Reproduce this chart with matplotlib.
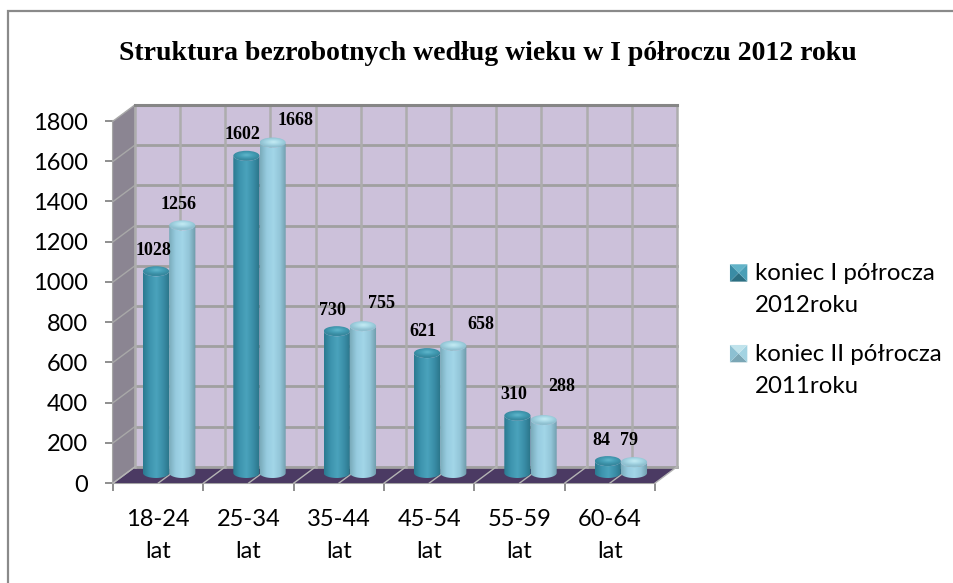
import numpy as np
import matplotlib
matplotlib.use('Agg')
import matplotlib.pyplot as plt
from matplotlib.colors import LinearSegmentedColormap
from matplotlib.legend_handler import HandlerBase
from matplotlib.patches import Ellipse, PathPatch, Polygon, Rectangle
from matplotlib.path import Path

# data
categories = ['18-24\nlat', '25-34\nlat', '35-44\nlat', '45-54\nlat', '55-59\nlat', '60-64\nlat']
values_2012 = [1028, 1602, 730, 621, 310, 84]
values_2011 = [1256, 1668, 755, 658, 288, 79]
y_ticks = [0, 200, 400, 600, 800, 1000, 1200, 1400, 1600, 1800]
series_names = ['koniec I półrocza\n2012roku', 'koniec II półrocza\n2011roku']
title = 'Struktura bezrobotnych według wieku w I półroczu 2012 roku'

# label shifts from the bar top, in pixels
shift_2012 = [(-3, 21), (-4, 21), (-4, 21), (-4, 22), (-4, 21), (-6, 21)]
shift_2011 = [(-4, 21), (23, 22), (19, 23), (28, 21), (18, 34), (-5, 22)]

W, H = 954, 583
LATO = 'Lato'
SERIF = 'Liberation Serif'


def box(x0, x1, y_top, y_bottom):
    # pixel box -> figure fractions
    return [x0 / W, 1 - y_bottom / H, (x1 - x0) / W, (y_bottom - y_top) / H]


fig = plt.figure(figsize=(W / 100, H / 100), dpi=100)

# grey frame, open on the right and bottom
frame = fig.add_axes([0, 0, 1, 1], zorder=0)
frame.set_xlim(0, W)
frame.set_ylim(H, 0)
frame.axis('off')
frame.plot([8, 8, W], [H, 11, 11], color='#8a8a8a', lw=1.6, solid_joinstyle='miter')

# front plane: carries the axis, ticks and labels
front = fig.add_axes(box(113, 655, 121, 483), zorder=1)
front.patch.set_visible(False)
front.set_xlim(0, 6)
front.set_ylim(0, 1800)
for s in ['top', 'right']:
    front.spines[s].set_visible(False)
for s in ['left', 'bottom']:
    front.spines[s].set_color('#a6a6a6')
    front.spines[s].set_linewidth(1.5)
front.set_xticks(range(7))
front.set_xticklabels([])
front.set_xticks(np.arange(6) + 0.5, categories, minor=True)
front.set_yticks(y_ticks)
front.tick_params(axis='x', which='major', length=6, width=1.3, color='#868686')
front.tick_params(axis='x', which='minor', length=0, pad=19, labelsize=17, labelfontfamily=LATO)
front.tick_params(axis='y', length=6, width=1.3, color='#868686', pad=12, labelsize=17, labelfontfamily=LATO)
for t in front.get_xticklabels(minor=True):
    t.set_linespacing(1.6)

# middle plane: walls, floor and bars
ax = fig.add_axes(box(124, 666, 116, 478), zorder=2)
ax.patch.set_visible(False)
ax.axis('off')

# depth of the box in data units
bx, by = 0.12, 55
fx, fy = -0.12, -25

ax.add_patch(Polygon([(bx, by), (6 + bx, by), (6 + bx, 1800 + by), (bx, 1800 + by)],
                     fc='#ccc1da', ec='none', zorder=1, clip_on=False))
ax.add_patch(Polygon([(fx, fy), (bx, by), (bx, 1800 + by), (fx, 1800 + fy)],
                     fc='#8b8592', ec='none', zorder=1, clip_on=False))
ax.add_patch(Polygon([(fx, fy), (6 + fx, fy), (6 + bx, by), (bx, by)],
                     fc='#4b3a63', ec='none', zorder=1, clip_on=False))

for v in y_ticks:
    ax.plot([bx, 6 + bx], [v + by, v + by], color='#a0a0a0', lw=2, zorder=2, clip_on=False)
    ax.plot([fx, bx], [v + fy, v + by], color='#a8a8a8', lw=1, zorder=2, clip_on=False)
for c in np.arange(0, 6.5, 0.5):
    ax.plot([c + bx, c + bx], [by, 1800 + by], color='#adadad', lw=1.8, zorder=2, clip_on=False)
    ax.plot([c + fx, c + bx], [fy, by], color='#b5b5b5', lw=1, zorder=2, clip_on=False)
ax.plot([bx, 6 + bx], [1800 + by, 1800 + by], color='#868686', lw=2.2, zorder=2, clip_on=False)

cmap_dark = LinearSegmentedColormap.from_list('d', ['#2b7a90', '#3d94ae', '#4aa3bc', '#3a8ea8', '#2a7488'])
cmap_light = LinearSegmentedColormap.from_list('l', ['#7aabbb', '#97cce0', '#a2d6e8', '#93c5d8', '#6c99a8'])
top_dark = LinearSegmentedColormap.from_list('td', ['#5fb6cb', '#459eb6', '#37899f'])
top_light = LinearSegmentedColormap.from_list('tl', ['#c4ebf3', '#a8d8e6', '#8fc0d0'])

half_w = 0.145
half_h = 25  # ellipse half height, data units
base = 25
sweep = np.linspace(0, 1, 60).reshape(1, -1)
gx, gy = np.meshgrid(np.linspace(-1, 1, 50), np.linspace(-1, 1, 30))
disc = np.clip(np.sqrt(gx ** 2 + (gy + 0.1) ** 2 * 1.3), 0, 1)


def cylinder(x, value, cmap, cmap_top):
    t = np.linspace(np.pi, 2 * np.pi, 30)
    low = np.column_stack([x + half_w * np.cos(t), base + half_h * np.sin(t)])
    high = np.column_stack([x + half_w * np.cos(t[::-1]), value + half_h * np.sin(t[::-1])])
    body = PathPatch(Path(np.vstack([low, high, low[:1]])), fc='none', ec='none', transform=ax.transData)
    ax.add_patch(body)
    im = ax.imshow(sweep, cmap=cmap, extent=(x - half_w, x + half_w, base - half_h, value + half_h),
                   aspect='auto', zorder=3, interpolation='bilinear')
    im.set_clip_path(body)
    lid = Ellipse((x, value), 2 * half_w, 2 * half_h, fc='none', ec='none', transform=ax.transData)
    ax.add_patch(lid)
    im2 = ax.imshow(disc, cmap=cmap_top, extent=(x - half_w, x + half_w, value - half_h, value + half_h),
                    aspect='auto', zorder=3.1, interpolation='bilinear')
    im2.set_clip_path(lid)


centers = np.arange(6) + 0.5
for c, v12, v11, s12, s11 in zip(centers, values_2012, values_2011, shift_2012, shift_2011):
    cylinder(c - 0.145, v12, cmap_dark, top_dark)
    cylinder(c + 0.145, v11, cmap_light, top_light)
    for xx, v, s in [(c - 0.145, v12, s12), (c + 0.145, v11, s11)]:
        ax.annotate(str(v), (xx, v), xytext=s, textcoords='offset pixels', ha='center', va='center',
                    family=SERIF, weight='bold', fontsize=13, color='black', zorder=5)

ax.set_xlim(0, 6)
ax.set_ylim(0, 1800)

fig.text(488 / W, 1 - 53 / H, title, ha='center', va='center', family=SERIF, weight='bold',
         fontsize=20, color='black')


# legend swatch: small square pyramid, four shaded faces
class PyramidHandler(HandlerBase):
    def __init__(self, faces):
        super().__init__()
        self.faces = faces

    def create_artists(self, legend, orig_handle, xdescent, ydescent, width, height, fontsize, trans):
        s = 12.5
        x0 = width - s + 1.5
        y0 = height / 2 - s / 2 + 12
        cx, cy = x0 + s / 2, y0 + s / 2
        corners = [(x0, y0), (x0 + s, y0), (x0 + s, y0 + s), (x0, y0 + s)]
        out = []
        for i, col in enumerate(self.faces):
            out.append(Polygon([corners[i], corners[(i + 1) % 4], (cx, cy)], fc=col, ec='none', transform=trans))
        return out


h1 = Rectangle((0, 0), 1, 1)
h2 = Rectangle((0, 0), 1, 1)
leg = fig.legend([h1, h2], series_names, loc='upper left', bbox_to_anchor=(714 / W, 1 - 263 / H),
                 frameon=False, prop={'family': LATO, 'size': 17.3}, labelspacing=1.15,
                 handlelength=1.3, handletextpad=0.4, borderpad=0, borderaxespad=0,
                 handler_map={h1: PyramidHandler(['#2c6f82', '#4b9fb6', '#62b3c8', '#3a8ca5']),
                              h2: PyramidHandler(['#7aa6b5', '#a3d3e2', '#c0e3ec', '#8cc0d2'])})
for t in leg.get_texts():
    t.set_linespacing(1.65)

fig.savefig('out.png', dpi=100)
